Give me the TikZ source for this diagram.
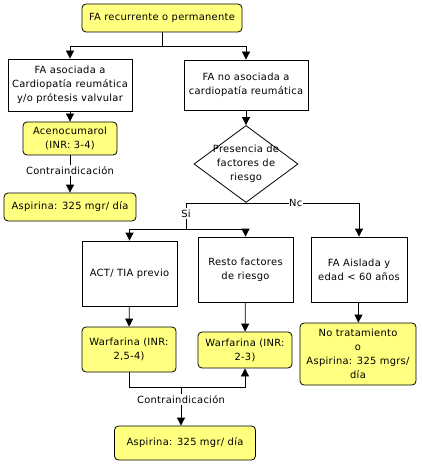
\documentclass[tikz,border=0pt]{standalone}
\usepackage{fontspec}
\setmainfont[LetterSpace=3]{DejaVu Sans}
\usetikzlibrary{arrows.meta}
\usetikzlibrary{shapes.geometric}
\definecolor{fayellow}{RGB}{255,255,128}

\begin{document}
\begin{tikzpicture}[line cap=butt,line join=miter,line width=0.8pt,>={Triangle[width=8pt,length=8pt]},x=1pt,y=-1pt,
  font=\fontsize{9.9}{14}\selectfont,
  caja/.style={draw,fill=white,align=center,inner sep=0pt},
  amarilla/.style={draw,fill=fayellow,rounded corners=4pt,align=center,inner sep=0pt},
  etiqueta/.style={fill=white,inner sep=1.5pt}]
\useasboundingbox (0,0) rectangle (421,465);
%fila superior
\node [amarilla,minimum width=160pt,minimum height=28pt] (inicio) at (162,18) {FA recurrente o permanente};
\node [caja,minimum width=124pt,minimum height=52pt] (asoc) at (70,85) {FA asociada a\\Cardiopatía reumática\\y/o prótesis valvular};
\node [caja,minimum width=124pt,minimum height=50pt] (noasoc) at (246,85) {FA no asociada a\\cardiopatía reumática};
\coordinate (reparto) at (162,46);
\draw [->] (inicio.south) -- (reparto) -| (asoc.north);
\draw [->] (reparto) -| (noasoc.north);

%rama reumatica
\node [amarilla,minimum width=94pt,minimum height=33pt] (aceno) at (70,138.5) {Acenocumarol\\(INR: 3-4)};
\node [amarilla,minimum width=132pt,minimum height=28pt] (aspA) at (70,207) {Aspirina: 325 mgr/ día};
\draw [->] (asoc) -- (aceno);
\draw [->] (aceno) -- node [etiqueta,pos=0.4] {Contraindicación} (aspA);

%rombo
\node [diamond,draw,fill=white,minimum width=104pt,minimum height=77pt,inner sep=0pt] (riesgo) at (246,164) {};
\node [align=center] at (riesgo) {Presencia de\\factores de\\riesgo};
\draw [->] (noasoc) -- (riesgo);

%segunda fila
\node [caja,minimum width=95pt,minimum height=65pt] (act) at (129.5,273.5) {ACT/ TIA previo};
\node [caja,minimum width=95pt,minimum height=65pt] (resto) at (245.5,269.5) {Resto factores\\de riesgo};
\node [caja,minimum width=96pt,minimum height=65pt] (aislada) at (359,269.5) {FA Aislada y\\edad < 60 años};
\coordinate (si) at (186,229);
\draw (riesgo.south) -| node [etiqueta,pos=0.7] {Si} (si);
\draw [->] (si) -| (act.north);
\draw [->] (si) -| (resto.north);
\draw [->] (riesgo.south) -| node [etiqueta,pos=0.22,inner sep=0.5pt] {Nc} (aislada.north);

%tratamientos
\node [amarilla,minimum width=94pt,minimum height=45pt] (warfA) at (129,349.5) {Warfarina (INR:\\2,5-4)};
\node [amarilla,minimum width=94pt,minimum height=36pt] (warfB) at (245,350) {Warfarina (INR:\\2-3)};
\node [amarilla,minimum width=116pt,minimum height=62pt] (notrat) at (358,354) {No tratamiento\\o\\Aspirina: 325 mgrs/\\día};
\draw [->] (act) -- (warfA);
\draw [->] (resto) -- (warfB);
\draw [->] (aislada) -- (notrat);

%contraindicacion inferior
\node [amarilla,minimum width=141pt,minimum height=34pt] (aspB) at (185,443) {Aspirina: 325 mgr/ día};
\coordinate (union) at (181,387);
\draw (warfA.south) |- (union);
\draw [->] (union) -| (warfB.south);
\draw [->] (union) -- node [etiqueta,pos=0.33] {Contraindicación} (union |- aspB.north);
\end{tikzpicture}
\end{document}
